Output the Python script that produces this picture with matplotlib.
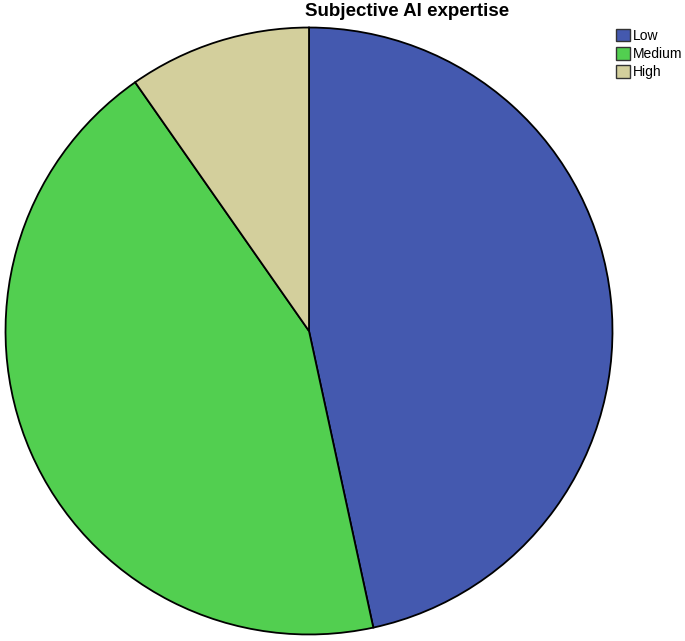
import matplotlib
matplotlib.use("Agg")
import matplotlib.pyplot as plt
from matplotlib.patches import Patch

categories = ["Low", "Medium", "High"]
counts = [48, 45, 10]
colors = ["#4459AF", "#52CF50", "#D3CF9C"]
title = "Subjective AI expertise"

W, H = 685, 641
fig = plt.figure(figsize=(W / 100, H / 100), dpi=100)
cx, cy, r = 309, 331, 305
ax = fig.add_axes([(cx - r) / W, (H - cy - r) / H, 2 * r / W, 2 * r / H])
ax.pie(counts, colors=colors, startangle=90, counterclock=False, radius=1,
       wedgeprops=dict(edgecolor="black", linewidth=1.3))
ax.set_xlim(-1.005, 1.005)
ax.set_ylim(-1.005, 1.005)
ax.set_aspect("equal")
ax.axis("off")

fig.text(407 / W, 1 - 12 / H, title, ha="center", va="center",
         fontsize=13.5, fontweight="bold", family="Liberation Sans")

handles = [Patch(facecolor=c, edgecolor="#333333", linewidth=1.0) for c in colors]
fig.legend(handles, categories, loc="upper left",
           bbox_to_anchor=(616 / W, 1 - 29 / H), frameon=False,
           prop=dict(family="Liberation Sans", size=10),
           handlelength=1.0, handleheight=1.0, handletextpad=0.25,
           labelspacing=0.3, borderpad=0, borderaxespad=0)

fig.savefig("out.png", dpi=100)
